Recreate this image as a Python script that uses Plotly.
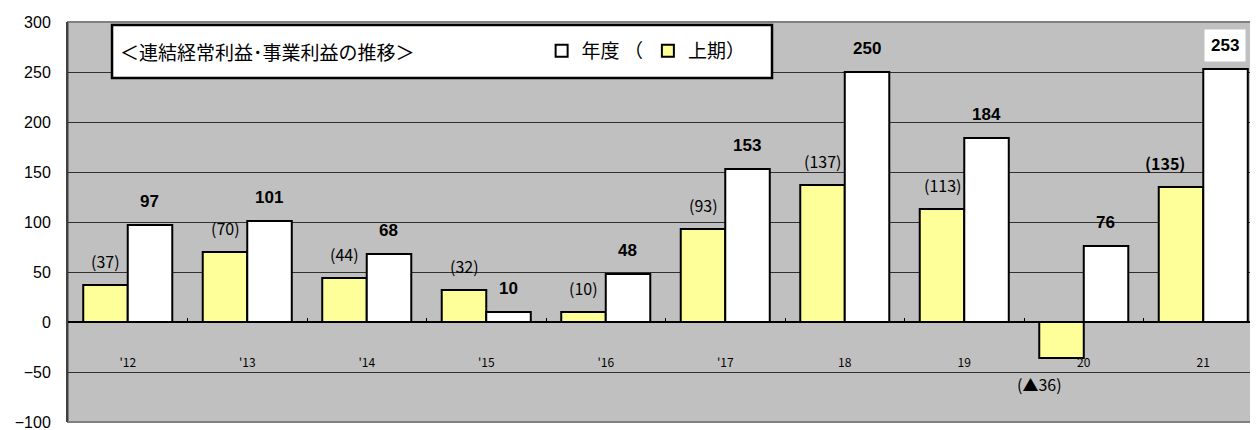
import plotly.graph_objects as go

categories = ["'12", "'13", "'14", "'15", "'16", "'17", "18", "19", "20", "21"]
annual = [97, 101, 68, 10, 48, 153, 250, 184, 76, 253]
first_half = [37, 70, 44, 32, 10, 93, 137, 113, -36, 135]
first_half_labels = ["(37)", "(70)", "(44)", "(32)", "(10)", "(93)", "(137)", "(113)", "(▲36)", "(135)"]
y_ticks = [-100, -50, 0, 50, 100, 150, 200, 250, 300]

JP = "Noto Sans CJK JP"
AR = "Liberation Sans"

fig = go.Figure()
fig.add_trace(go.Bar(
    x=categories, y=first_half, name="上期）", legendrank=2,
    marker=dict(color="#FFFF99", line=dict(color="black", width=2)),
))
fig.add_trace(go.Bar(
    x=categories, y=annual, name="年度 （", legendrank=1,
    marker=dict(color="#FFFFFF", line=dict(color="black", width=2)),
))

ann = []
for i, (c, v, t) in enumerate(zip(categories, first_half, first_half_labels)):
    xs, bold = -22, False
    if c == "21":
        xs, bold = -38, True
    if v < 0:
        xs = -44
    ann.append(dict(
        x=i, y=v, xref="x", yref="y", text=("<b>%s</b>" % t) if bold else t,
        showarrow=False, xshift=xs, yshift=(24 if v >= 0 else -26),
        yanchor="middle", font=dict(family=JP, size=16, color="black"),
    ))
for i, (c, v) in enumerate(zip(categories, annual)):
    d = dict(
        x=i, y=v, xref="x", yref="y", text="<b>%d</b>" % v,
        showarrow=False, xshift=22, yshift=24, yanchor="middle",
        font=dict(family=AR, size=17, color="black"),
    )
    if c == "21":
        d.update(bgcolor="white", borderpad=6)
    ann.append(d)

ann.append(dict(
    x=0.042, y=0.9275, xref="paper", yref="paper", xanchor="left", yanchor="middle",
    text="＜連結経常利益･事業利益の推移＞", showarrow=False,
    font=dict(family=JP, size=19, color="black"),
))

shapes = [
    dict(type="rect", xref="paper", yref="paper", x0=0.037, x1=0.5916, y0=0.86, y1=0.9925,
         fillcolor="white", line=dict(color="black", width=2.5), layer="above"),
    dict(type="rect", xref="paper", yref="paper", x0=0, x1=1, y0=0, y1=1,
         fillcolor="rgba(0,0,0,0)", line=dict(color="#808080", width=2), layer="below"),
]

fig.update_layout(
    width=1250, height=422,
    margin=dict(l=60, r=0, t=14, b=8),
    paper_bgcolor="white", plot_bgcolor="#C0C0C0",
    barmode="group", bargap=0.255, bargroupgap=0,
    showlegend=True,
    legend=dict(orientation="h", x=0.398, y=0.9275, xanchor="left", yanchor="middle",
                bgcolor="rgba(0,0,0,0)", font=dict(family=JP, size=19, color="black"),
                itemwidth=30, traceorder="normal"),
    annotations=ann, shapes=shapes,
    xaxis=dict(type="category", range=[-0.5, 9.458], anchor="free", position=0.25,
               showline=False, showgrid=False, ticks="inside", tickson="boundaries",
               ticklen=4, tickcolor="black", tickwidth=1,
               ticklabelstandoff=32,
               tickfont=dict(family=JP, size=12, color="black")),
    yaxis=dict(range=[-100, 300], tickvals=y_ticks, showgrid=True, gridcolor="#303030",
               gridwidth=1, zeroline=True, zerolinecolor="black", zerolinewidth=2,
               showline=True, linecolor="#404040", linewidth=2, ticks="",
               ticklabelstandoff=12, ticklabeloverflow="allow",
               tickfont=dict(family=AR, size=16, color="black")),
)

fig.write_html("out.html")
